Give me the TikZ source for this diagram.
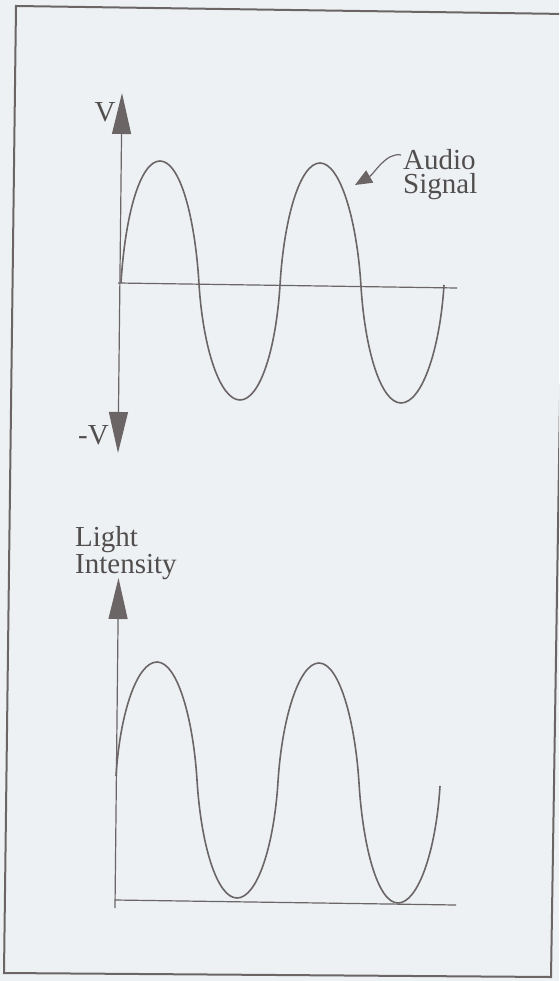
\documentclass[tikz,border=0pt]{standalone}
\usepackage{fontspec}
\setmainfont{Liberation Serif}
\usetikzlibrary{arrows.meta}
\definecolor{paper}{HTML}{EDF1F4}
\definecolor{ink}{HTML}{6B6565}
\definecolor{txt}{HTML}{524E4E}
\begin{document}
\begin{tikzpicture}[x=1pt,y=-1pt,
  axisline/.style={draw=ink, line width=1.2pt},
  waveline/.style={draw=ink, line width=1.6pt},
  frameline/.style={draw=ink, line width=2pt},
  lbl/.style={text=txt, font=\fontsize{29}{24}\selectfont, inner sep=0pt, align=left}]
\useasboundingbox (0,0) rectangle (559,981);
\clip (0,0) rectangle (559,981);
\fill[paper] (0,0) rectangle (559,981);
% frame
\coordinate (ftl) at (16,6);
\coordinate (ftr) at (566,14);
\coordinate (fbr) at (551,977);
\coordinate (fbl) at (4,973);
\draw[frameline] (ftl) -- (ftr) -- (fbr) -- (fbl) -- cycle;
% top graph axes
\coordinate (vtop) at (122,93);
\coordinate (vbot) at (118,453);
\coordinate (hl) at (118,283);
\coordinate (hr) at (457,288);
\draw[axisline, {Triangle[length=41pt,width=19pt]}-{Triangle[length=41pt,width=19pt]}] (vtop) -- (vbot);
\draw[axisline] (hl) -- (hr);
% top wave
\coordinate (t0) at (121,283);
\coordinate (tp1) at (160,161);
\coordinate (t1) at (199,284);
\coordinate (tt1) at (240,400);
\coordinate (t2) at (280,285);
\coordinate (tp2) at (320,163);
\coordinate (t3) at (361,286.5);
\coordinate (tt2) at (401,403);
\coordinate (t4) at (444,285);
\draw[waveline] (t0) .. controls +(4,-67) and +(-20,0) .. (tp1)
  .. controls +(20,0) and +(-4,-67) .. (t1)
  .. controls +(4,64) and +(-20,0) .. (tt1)
  .. controls +(20,0) and +(-4,64) .. (t2)
  .. controls +(4,-67) and +(-20,0) .. (tp2)
  .. controls +(20,0) and +(-4,-67) .. (t3)
  .. controls +(4,64) and +(-20,0) .. (tt2)
  .. controls +(21,0) and +(-4,64) .. (t4);
% labels top
\node[lbl, anchor=base] (vlab) at (105,122) {V};
\node[lbl, anchor=base] (nvlab) at (93.5,444) {-V};
\node[lbl, anchor=north west] (audio) at (403,149.5) {Audio\\Signal};
\coordinate (astart) at (401,155);
\coordinate (atip) at (355,185);
\draw[draw=ink, line width=1.2pt, -{Triangle[length=17pt,width=14pt]}] (astart) .. controls (386,152) and (374,174) .. (atip);
% bottom graph
\node[lbl, anchor=north west] (light) at (75,526.5) {Light\\Intensity};
\coordinate (btop) at (118.5,578);
\coordinate (bbot) at (115,908);
\coordinate (bhl) at (115,900);
\coordinate (bhr) at (456,905);
\draw[axisline, {Triangle[length=41pt,width=19pt]}-] (btop) -- (bbot);
\draw[axisline] (bhl) -- (bhr);
\coordinate (b0) at (116,776);
\coordinate (bp1) at (157,662);
\coordinate (b1) at (197,780);
\coordinate (bt1) at (237,898);
\coordinate (b2) at (278,781.5);
\coordinate (bp2) at (319,663);
\coordinate (b3) at (359,783);
\coordinate (bt2) at (398,903);
\coordinate (b4) at (440,786);
\draw[waveline] (b0) .. controls +(4,-63) and +(-20,0) .. (bp1)
  .. controls +(20,0) and +(-4,-63) .. (b1)
  .. controls +(4,65) and +(-20,0) .. (bt1)
  .. controls +(20,0) and +(-4,65) .. (b2)
  .. controls +(4,-63) and +(-20,0) .. (bp2)
  .. controls +(20,0) and +(-4,-63) .. (b3)
  .. controls +(4,65) and +(-20,0) .. (bt2)
  .. controls +(20,0) and +(-4,65) .. (b4);
\end{tikzpicture}
\end{document}
